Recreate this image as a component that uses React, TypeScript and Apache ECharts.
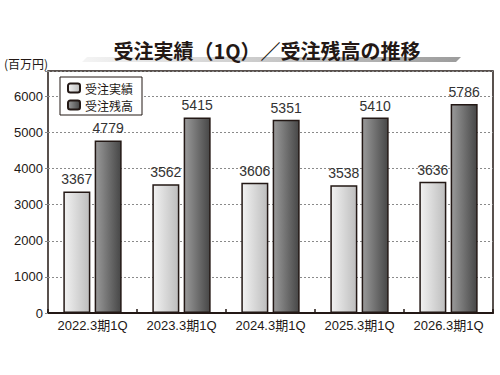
import React, { useEffect, useRef } from "react";
import * as echarts from "echarts";

const categories = ["2022.3期1Q", "2023.3期1Q", "2024.3期1Q", "2025.3期1Q", "2026.3期1Q"];
const orders = [3367, 3562, 3606, 3538, 3636];
const backlog = [4779, 5415, 5351, 5410, 5786];
const seriesNames = ["受注実績", "受注残高"];
const titleText = "受注実績（1Q）／受注残高の推移";
const unitText = "(百万円)";

const FONT = "'Liberation Sans', 'Noto Sans CJK JP', sans-serif";
const DARK = "#231815";

export default function App() {
  const ref = useRef<HTMLDivElement>(null);
  useEffect(() => {
    if (!ref.current) return;
    const chart = echarts.init(ref.current, null, { renderer: "svg" });
    const lightGrad = new echarts.graphic.LinearGradient(0, 0, 1, 0, [
      { offset: 0, color: "#f2f2f2" },
      { offset: 1, color: "#bdbdbd" },
    ]);
    const darkGrad = new echarts.graphic.LinearGradient(0, 0, 1, 0, [
      { offset: 0, color: "#9a9a9a" },
      { offset: 1, color: "#474747" },
    ]);
    const labelCfg = {
      show: true,
      position: "top" as const,
      distance: 5,
      color: "#333",
      fontSize: 14,
      fontFamily: FONT,
    };
    chart.setOption({
      animation: false,
      backgroundColor: "#fff",
      textStyle: { fontFamily: FONT },
      graphic: [
        {
          type: "polygon",
          shape: { points: [[87, 57], [461, 57], [456, 62], [82, 62]] },
          style: {
            fill: new echarts.graphic.LinearGradient(0, 0, 1, 0, [
              { offset: 0, color: "#f4f4f4" },
              { offset: 1, color: "#9c9c9c" },
            ]),
          },
          z: 1,
        },
        {
          type: "text",
          x: 267,
          y: 50,
          style: {
            text: titleText,
            fontSize: 20,
            fontWeight: "bold",
            fontFamily: "'Noto Sans CJK JP', sans-serif",
            fill: DARK,
            align: "center",
            verticalAlign: "middle",
          },
          z: 2,
        },
        {
          type: "text",
          x: 4,
          y: 63,
          style: {
            text: unitText,
            fontSize: 12,
            fontFamily: "'Noto Sans CJK JP', sans-serif",
            fill: DARK,
            align: "left",
            verticalAlign: "middle",
          },
        },
      ],
      legend: {
        orient: "vertical",
        left: 60,
        top: 77,
        padding: [5, 9, 4, 7],
        itemWidth: 12,
        itemHeight: 9,
        itemGap: 5,
        borderColor: DARK,
        borderWidth: 1,
        backgroundColor: "#fff",
        textStyle: { fontSize: 12, color: DARK, fontFamily: "'Noto Sans CJK JP', sans-serif" },
        data: seriesNames,
      },
      grid: {
        left: 48,
        right: 7,
        top: 71,
        bottom: 62,
        show: true,
        borderColor: DARK,
        borderWidth: 1.5,
        backgroundColor: "transparent",
      },
      xAxis: {
        type: "category",
        data: categories,
        axisLine: { lineStyle: { color: DARK, width: 2 } },
        axisTick: { show: true, inside: true, length: 4, lineStyle: { color: DARK, width: 1.5 } },
        axisLabel: {
          color: DARK,
          fontSize: 13,
          margin: 6,
          interval: 0,
          hideOverlap: false,
          fontFamily: FONT,
        },
      },
      yAxis: {
        type: "value",
        min: 0,
        max: 6700,
        interval: 1000,
        axisLine: { show: false },
        axisTick: { show: true, length: 3, lineStyle: { color: "#888" } },
        axisLabel: {
          color: DARK,
          fontSize: 13,
          margin: 5,
          fontFamily: FONT,
          formatter: (v: number) => (v % 1000 === 0 ? String(v) : ""),
        },
        splitLine: { lineStyle: { color: "#8a8a8a", type: [2, 2], width: 1 } },
      },
      series: [
        {
          name: seriesNames[0],
          type: "bar",
          data: orders,
          barWidth: 27,
          barGap: "16%",
          itemStyle: { color: lightGrad, borderColor: DARK, borderWidth: 1.5 },
          label: labelCfg,
        },
        {
          name: seriesNames[1],
          type: "bar",
          data: backlog,
          barWidth: 27,
          itemStyle: { color: darkGrad, borderColor: DARK, borderWidth: 1.5 },
          label: labelCfg,
        },
      ],
    });
    return () => chart.dispose();
  }, []);
  return (
    <div
      ref={ref}
      style={{ position: "fixed", left: 0, top: 0, width: 500, height: 375 }}
    />
  );
}
